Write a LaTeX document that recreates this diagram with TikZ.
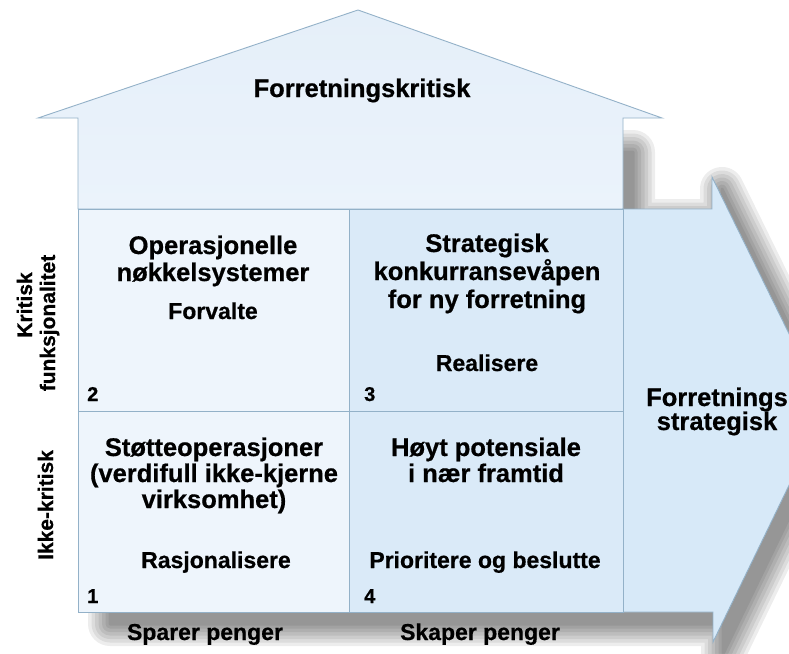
\documentclass[tikz,border=0pt]{standalone}
\usepackage{fontspec}
\setmainfont{Liberation Sans}[BoldFeatures={FakeBold=0.6}]
\definecolor{lineblue}{HTML}{93B1C8}
\definecolor{cellL}{HTML}{EEF5FC}
\definecolor{cellR}{HTML}{DAEAF8}
\definecolor{arrowc}{HTML}{D7E9F8}
\definecolor{housetop}{HTML}{E5EFF9}
\definecolor{housebot}{HTML}{EBF3FB}
\newcommand\shadowshape[1]{\path[#1] (100,140) -- (623,140) -- (623,209) -- (712,209) -- (712,177) -- (826,409) -- (713,642) -- (713,612) -- (100,612) -- cycle;}
\begin{document}
\begin{tikzpicture}[x=1pt,y=-1pt,
  big/.style={font=\bfseries\fontsize{25.5}{28}\selectfont, inner sep=0pt, anchor=base},
  small/.style={font=\bfseries\fontsize{23}{26}\selectfont, inner sep=0pt, anchor=base},
  num/.style={font=\bfseries\fontsize{20}{22}\selectfont, inner sep=0pt, anchor=base west},
  axis/.style={font=\bfseries\fontsize{21}{24}\selectfont, inner sep=0pt, anchor=base, rotate=90},
  edge/.style={draw=lineblue, line width=0.9pt, line join=miter}]
\useasboundingbox (0,0) rectangle (789,653);
\clip (0,0) rectangle (789,653);
\fill[white] (0,0) rectangle (789,653);
% soft shadow
\begin{scope}[shift={(10,12)}]
  \foreach \w in {44,37,30,23,16,9,3} {
    \begin{scope}[transparency group, opacity=0.07]
      \shadowshape{fill=black, draw=black, line width=\w pt, line join=round}
    \end{scope}
  }
\end{scope}
% house
\path[edge, top color=housetop, bottom color=housebot]
  (78,209) -- (78,118) -- (38,118) -- (358,10) -- (662,118) -- (623,118) -- (623,209) -- cycle;
% arrow
\path[edge, fill=arrowc]
  (623,209) -- (712,209) -- (712,177) -- (826,409) -- (713,642) -- (713,612) -- (623,612) -- cycle;
% cells
\path[fill=cellL] (78,209) rectangle (349,612);
\path[fill=cellR] (349,209) rectangle (623,612);
\draw[edge] (78,209) rectangle (623,612);
\draw[edge] (349,209) -- (349,612);
\draw[edge] (78,411) -- (623,411);
% texts
\node[big] (title) at (362,97) {Forretningskritisk};
\node[big] (c2a) at (213,254) {Operasjonelle};
\node[big] (c2b) at (213,281) {nøkkelsystemer};
\node[small] (c2c) at (213,319) {Forvalte};
\node[num] (n2) at (87,401) {2};
\node[big] (c3a) at (487,252) {Strategisk};
\node[big] (c3b) at (487,280) {konkurransevåpen};
\node[big] (c3c) at (487,308) {for ny forretning};
\node[small] (c3d) at (487,371) {Realisere};
\node[num] (n3) at (364,401) {3};
\node[big] (c1a) at (214,456) {Støtteoperasjoner};
\node[big] (c1b) at (214,482) {(verdifull ikke-kjerne};
\node[big] (c1c) at (214,508) {virksomhet)};
\node[small] (c1d) at (216,568) {Rasjonalisere};
\node[num] (n1) at (87,603) {1};
\node[big] (c4a) at (486,456) {Høyt potensiale};
\node[big] (c4b) at (486,482) {i nær framtid};
\node[small] (c4c) at (485,568) {Prioritere og beslutte};
\node[num] (n4) at (364,603) {4};
\node[big] (fs1) at (717,406) {Forretnings};
\node[big] (fs2) at (717,430) {strategisk};
\node[small] (sp) at (205,640) {Sparer penger};
\node[small] (sk) at (480,640) {Skaper penger};
\node[axis] (ax1) at (32,305) {Kritisk};
\node[axis] (ax2) at (55,323) {funksjonalitet};
\node[axis] (ax3) at (53,505) {Ikke-kritisk};
\end{tikzpicture}
\end{document}
